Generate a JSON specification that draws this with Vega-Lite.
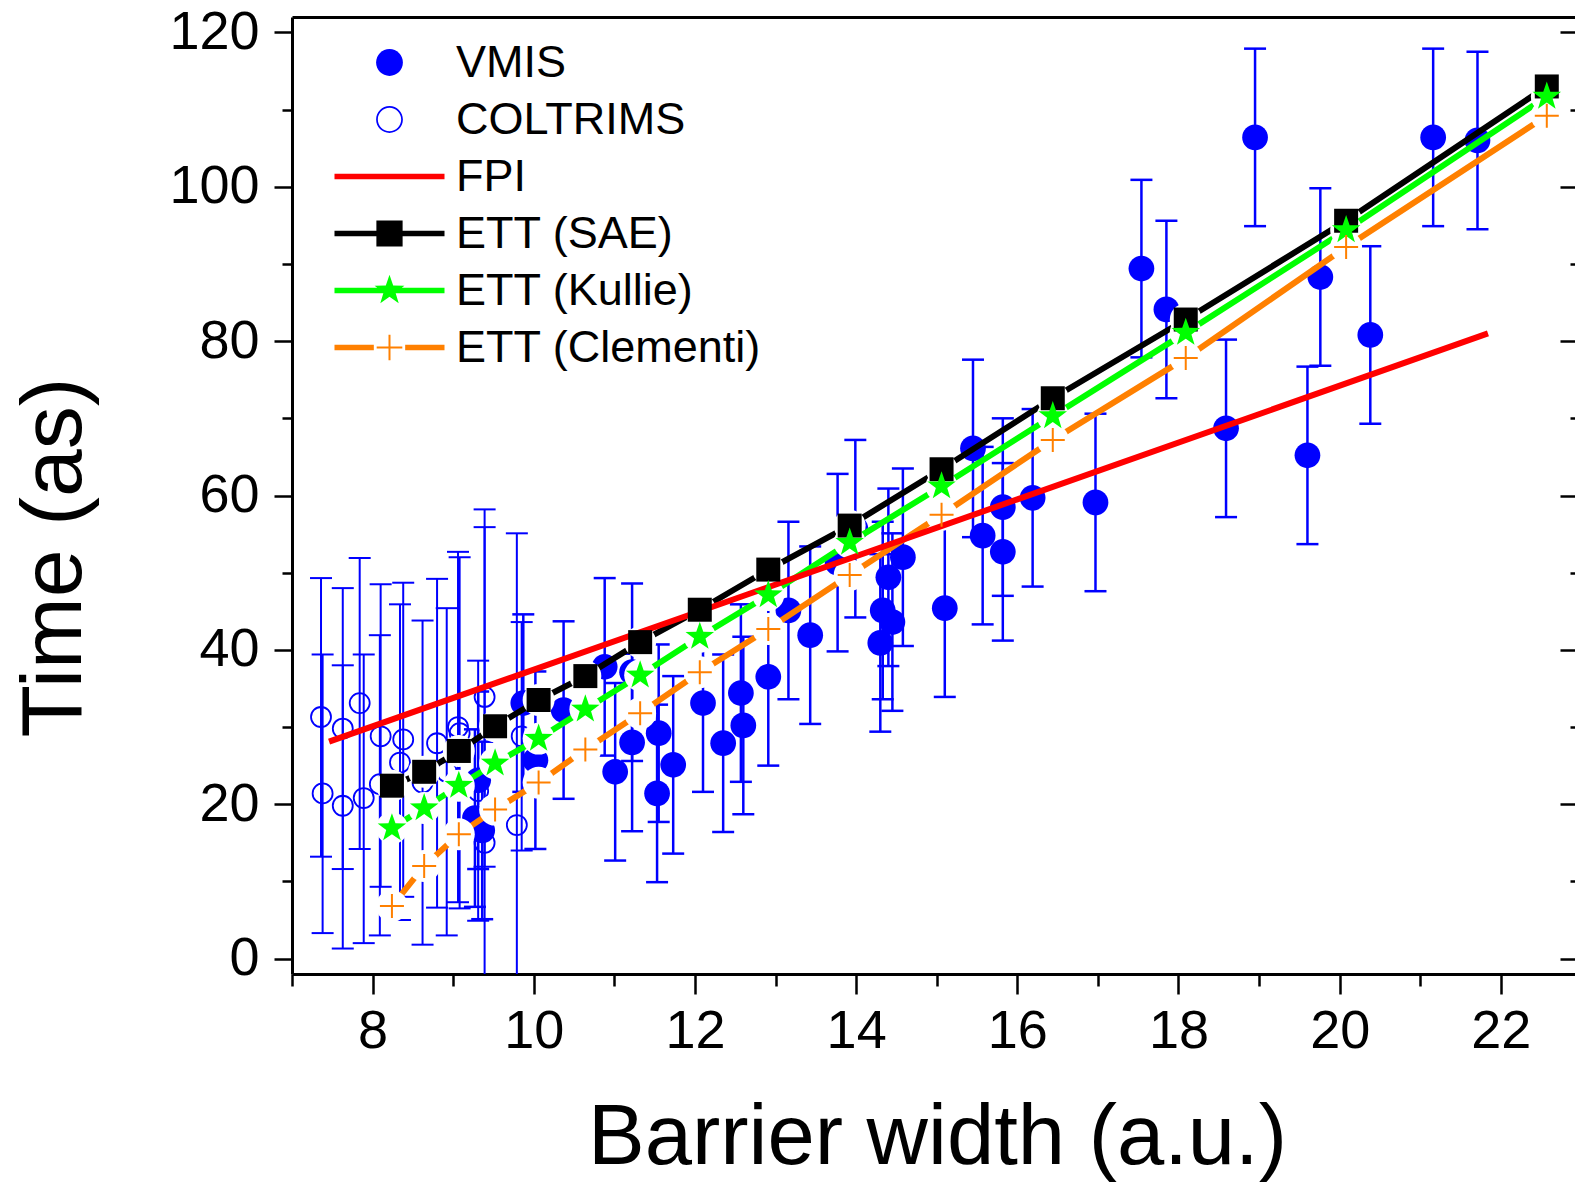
{
  "$schema": "https://vega.github.io/schema/vega-lite/v6.json",
  "width": 1283,
  "height": 957,
  "autosize": {"type": "none"},
  "padding": {"left": 292, "top": 17, "right": 0, "bottom": 211},
  "config": {
    "view": {"stroke": null},
    "font": "Liberation Sans",
    "axis": {"grid": false, "domainColor": "black", "tickColor": "black", "labelColor": "black", "titleColor": "black", "labelFont": "Liberation Sans", "titleFont": "Liberation Sans", "titleFontWeight": "normal"}
  },
  "resolve": {"axis": {"x": "independent", "y": "independent"}},
  "datasets": {
    "vmis": [
      {"x": 9.27, "t": 18.2, "lo": 6.7, "hi": 29.7},
      {"x": 9.36, "t": 16.6, "lo": 5.1, "hi": 28.1},
      {"x": 9.31, "t": 23.1, "lo": 11.6, "hi": 34.6},
      {"x": 9.87, "t": 33.1, "lo": 21.6, "hi": 44.6},
      {"x": 10.02, "t": 25.7, "lo": 14.2, "hi": 37.2},
      {"x": 10.37, "t": 32.2, "lo": 20.7, "hi": 43.7},
      {"x": 10.88, "t": 37.8, "lo": 26.3, "hi": 49.3},
      {"x": 11.01, "t": 24.2, "lo": 12.7, "hi": 35.7},
      {"x": 11.22, "t": 37.1, "lo": 25.6, "hi": 48.6},
      {"x": 11.22, "t": 28.0, "lo": 16.5, "hi": 39.5},
      {"x": 11.55, "t": 29.2, "lo": 17.7, "hi": 40.7},
      {"x": 11.53, "t": 21.4, "lo": 9.9, "hi": 32.9},
      {"x": 11.73, "t": 25.1, "lo": 13.6, "hi": 36.6},
      {"x": 12.10, "t": 33.1, "lo": 21.6, "hi": 44.6},
      {"x": 12.35, "t": 27.9, "lo": 16.4, "hi": 39.4},
      {"x": 12.57, "t": 34.4, "lo": 22.9, "hi": 45.9},
      {"x": 12.60, "t": 30.2, "lo": 18.7, "hi": 41.7},
      {"x": 12.91, "t": 36.5, "lo": 25.0, "hi": 48.0},
      {"x": 13.16, "t": 45.1, "lo": 33.6, "hi": 56.6},
      {"x": 13.43, "t": 41.9, "lo": 30.4, "hi": 53.4},
      {"x": 13.77, "t": 51.3, "lo": 39.8, "hi": 62.8},
      {"x": 13.99, "t": 55.7, "lo": 44.2, "hi": 67.2},
      {"x": 14.30, "t": 40.9, "lo": 29.4, "hi": 52.4},
      {"x": 14.33, "t": 45.1, "lo": 33.6, "hi": 56.6},
      {"x": 14.40, "t": 49.4, "lo": 37.9, "hi": 60.9},
      {"x": 14.45, "t": 43.6, "lo": 32.1, "hi": 55.1},
      {"x": 14.58, "t": 52.0, "lo": 40.5, "hi": 63.5},
      {"x": 15.10, "t": 45.4, "lo": 33.9, "hi": 56.9},
      {"x": 15.45, "t": 66.1, "lo": 54.6, "hi": 77.6},
      {"x": 15.57, "t": 54.8, "lo": 43.3, "hi": 66.3},
      {"x": 15.82, "t": 58.5, "lo": 47.0, "hi": 70.0},
      {"x": 15.82, "t": 52.7, "lo": 41.2, "hi": 64.2},
      {"x": 16.19, "t": 59.7, "lo": 48.2, "hi": 71.2},
      {"x": 16.97, "t": 59.1, "lo": 47.6, "hi": 70.6},
      {"x": 17.54, "t": 89.4, "lo": 77.9, "hi": 100.9},
      {"x": 17.85, "t": 84.1, "lo": 72.6, "hi": 95.6},
      {"x": 18.59, "t": 68.7, "lo": 57.2, "hi": 80.2},
      {"x": 18.95, "t": 106.4, "lo": 94.9, "hi": 117.9},
      {"x": 19.60, "t": 65.2, "lo": 53.7, "hi": 76.7},
      {"x": 19.76, "t": 88.3, "lo": 76.8, "hi": 99.8},
      {"x": 20.38, "t": 80.8, "lo": 69.3, "hi": 92.3},
      {"x": 21.16, "t": 106.4, "lo": 94.9, "hi": 117.9},
      {"x": 21.71, "t": 106.0, "lo": 94.5, "hi": 117.5}
    ],
    "colt": [
      {"x": 7.36, "t": 31.3, "lo": 13.2, "hi": 49.3},
      {"x": 7.38, "t": 21.4, "lo": 3.3, "hi": 39.4},
      {"x": 7.63, "t": 29.8, "lo": 11.6, "hi": 48.0},
      {"x": 7.63, "t": 19.8, "lo": 1.3, "hi": 38.0},
      {"x": 7.84, "t": 33.1, "lo": 14.2, "hi": 51.9},
      {"x": 7.89, "t": 20.8, "lo": 2.0, "hi": 39.4},
      {"x": 8.10, "t": 28.8, "lo": 9.3, "hi": 48.5},
      {"x": 8.09, "t": 22.6, "lo": 3.0, "hi": 41.9},
      {"x": 8.38, "t": 28.4, "lo": 8.0, "hi": 48.7},
      {"x": 8.34, "t": 25.4, "lo": 5.0, "hi": 45.9},
      {"x": 8.62, "t": 22.8, "lo": 1.8, "hi": 43.8},
      {"x": 8.80, "t": 27.9, "lo": 6.6, "hi": 49.2},
      {"x": 8.92, "t": 24.2, "lo": 3.0, "hi": 45.4},
      {"x": 9.06, "t": 30.0, "lo": 7.3, "hi": 52.7},
      {"x": 9.08, "t": 29.2, "lo": 6.5, "hi": 52.0},
      {"x": 9.39, "t": 33.9, "lo": 11.9, "hi": 55.9},
      {"x": 9.31, "t": 21.7, "lo": 4.9, "hi": 38.6},
      {"x": 9.85, "t": 28.8, "lo": 14.0, "hi": 43.6},
      {"x": 9.79, "t": 17.3, "lo": -20.5, "hi": 55.1},
      {"x": 9.39, "t": 15.0, "lo": -28.0, "hi": 58.2}
    ],
    "sae": [
      {"x": 8.24, "t": 22.4}, {"x": 8.64, "t": 24.2}, {"x": 9.07, "t": 26.9}, {"x": 9.52, "t": 30.1},
      {"x": 10.06, "t": 33.5}, {"x": 10.64, "t": 36.6}, {"x": 11.32, "t": 41.0}, {"x": 12.06, "t": 45.2},
      {"x": 12.91, "t": 50.4}, {"x": 13.92, "t": 56.1}, {"x": 15.06, "t": 63.4}, {"x": 16.44, "t": 72.6},
      {"x": 18.09, "t": 82.8}, {"x": 20.08, "t": 95.6}, {"x": 22.57, "t": 113.0}
    ],
    "kullie": [
      {"x": 8.24, "t": 16.9}, {"x": 8.64, "t": 19.5}, {"x": 9.07, "t": 22.4}, {"x": 9.52, "t": 25.3},
      {"x": 10.06, "t": 28.5}, {"x": 10.64, "t": 32.3}, {"x": 11.32, "t": 36.7}, {"x": 12.06, "t": 41.7},
      {"x": 12.91, "t": 47.1}, {"x": 13.92, "t": 53.9}, {"x": 15.06, "t": 61.2}, {"x": 16.44, "t": 70.3},
      {"x": 18.09, "t": 81.1}, {"x": 20.08, "t": 94.4}, {"x": 22.57, "t": 111.7}
    ],
    "clementi": [
      {"x": 8.24, "t": 6.8}, {"x": 8.64, "t": 12.0}, {"x": 9.07, "t": 16.1}, {"x": 9.52, "t": 19.3},
      {"x": 10.06, "t": 22.8}, {"x": 10.64, "t": 27.1}, {"x": 11.32, "t": 31.8}, {"x": 12.06, "t": 37.1},
      {"x": 12.91, "t": 42.7}, {"x": 13.92, "t": 49.7}, {"x": 15.06, "t": 57.5}, {"x": 16.44, "t": 67.2},
      {"x": 18.09, "t": 77.8}, {"x": 20.08, "t": 92.2}, {"x": 22.57, "t": 109.2}
    ],
    "fpi": [
      {"x": 7.46, "t": 28.1}, {"x": 12.06, "t": 45.0}, {"x": 16.0, "t": 59.5}, {"x": 21.84, "t": 81.0}
    ]
  },
  "layer": [
    {
      "data": {"name": "colt"},
      "mark": {"type": "rule", "color": "#0000ff", "strokeWidth": 2, "clip": true},
      "encoding": {
        "x": {"field": "x", "type": "quantitative", "scale": {"domain": [7, 22.92], "nice": false, "zero": false},
              "axis": {"orient": "bottom", "values": [8, 10, 12, 14, 16, 18, 20, 22], "title": "Barrier width (a.u.)", "tickSize": 20, "tickWidth": 2.5, "domainWidth": 3, "labelFontSize": 54, "labelPadding": 10, "titleFontSize": 85, "titleX": 645, "titleY": 189, "titleBaseline": "alphabetic", "titleAlign": "center", "labelFlush": false, "labelOverlap": false}},
        "y": {"field": "lo", "type": "quantitative", "scale": {"domain": [-2, 122], "nice": false, "zero": false},
              "axis": {"orient": "left", "values": [0, 20, 40, 60, 80, 100, 120], "title": "Time (as)", "tickSize": 18, "tickWidth": 2.5, "domainWidth": 3, "labelFontSize": 54, "labelPadding": 15, "titleFontSize": 86, "titleAngle": -90, "titleX": -212, "titleY": 540, "titleBaseline": "alphabetic", "titleAlign": "center", "labelFlush": false, "labelOverlap": false}},
        "y2": {"field": "hi"}
      }
    },
    {
      "data": {"name": "colt"},
      "mark": {"type": "tick", "orient": "horizontal", "size": 22, "thickness": 2, "color": "#0000ff", "opacity": 1, "clip": true},
      "encoding": {
        "x": {"field": "x", "type": "quantitative", "axis": {"orient": "bottom", "values": [7, 9, 11, 13, 15, 17, 19, 21], "labels": false, "title": null, "tickSize": 12, "tickWidth": 2.5, "domain": false}},
        "y": {"field": "lo", "type": "quantitative", "axis": {"orient": "left", "values": [10, 30, 50, 70, 90, 110], "labels": false, "title": null, "tickSize": 10, "tickWidth": 2.5, "domain": false}}
      }
    },
    {
      "data": {"name": "colt"},
      "mark": {"type": "tick", "orient": "horizontal", "size": 22, "thickness": 2, "color": "#0000ff", "opacity": 1, "clip": true},
      "encoding": {
        "x": {"field": "x", "type": "quantitative", "axis": {"orient": "top", "ticks": false, "labels": false, "title": null, "domainWidth": 3}},
        "y": {"field": "hi", "type": "quantitative", "axis": {"orient": "right", "values": [0, 20, 40, 60, 80, 100, 120], "labels": false, "title": null, "tickSize": -15, "tickWidth": 2.5, "domain": false}}
      }
    },
    {
      "data": {"name": "vmis"},
      "mark": {"type": "rule", "color": "#0000ff", "strokeWidth": 2.5, "clip": true},
      "encoding": {
        "x": {"field": "x", "type": "quantitative", "axis": null},
        "y": {"field": "lo", "type": "quantitative", "axis": {"orient": "right", "values": [10, 30, 50, 70, 90, 110], "labels": false, "title": null, "tickSize": -5, "tickWidth": 2.5, "domain": false}},
        "y2": {"field": "hi"}
      }
    },
    {
      "data": {"name": "vmis"},
      "mark": {"type": "tick", "orient": "horizontal", "size": 22, "thickness": 2.5, "color": "#0000ff", "opacity": 1, "clip": true},
      "encoding": {
        "x": {"field": "x", "type": "quantitative", "axis": null},
        "y": {"field": "lo", "type": "quantitative", "axis": null}
      }
    },
    {
      "data": {"name": "vmis"},
      "mark": {"type": "tick", "orient": "horizontal", "size": 22, "thickness": 2.5, "color": "#0000ff", "opacity": 1, "clip": true},
      "encoding": {
        "x": {"field": "x", "type": "quantitative", "axis": null},
        "y": {"field": "hi", "type": "quantitative", "axis": null}
      }
    },
    {
      "data": {"name": "colt"},
      "mark": {"type": "point", "shape": "circle", "filled": false, "stroke": "#0000ff", "strokeWidth": 1.8, "size": 400, "opacity": 1, "clip": true},
      "encoding": {
        "x": {"field": "x", "type": "quantitative", "axis": null},
        "y": {"field": "t", "type": "quantitative", "axis": null}
      }
    },
    {
      "data": {"name": "vmis"},
      "mark": {"type": "point", "filled": true, "size": 3003, "opacity": 1, "strokeWidth": 0, "clip": true},
      "encoding": {
        "x": {"field": "x", "type": "quantitative", "axis": null},
        "y": {"field": "t", "type": "quantitative", "axis": null},
        "color": {"datum": "VMIS", "type": "nominal",
          "scale": {"domain": ["VMIS", "COLTRIMS", "FPI", "ETT (SAE)", "ETT (Kullie)", "ETT (Clementi)"], "range": ["#0000ff", "#0000ff", "#ff0000", "#000000", "#00ff00", "#ff8000"]},
          "legend": {"title": null, "orient": "none", "legendX": 69, "legendY": 17, "direction": "vertical", "symbolSize": 3249, "symbolOffset": 0, "symbolStrokeWidth": 0, "symbolOpacity": 1, "labelOffset": 38, "labelFontSize": 45, "labelFont": "Liberation Sans", "labelColor": "black", "labelLimit": 0, "rowPadding": 5, "padding": 0}},
        "shape": {"datum": "VMIS", "type": "nominal",
          "scale": {"domain": ["VMIS", "COLTRIMS", "FPI", "ETT (SAE)", "ETT (Kullie)", "ETT (Clementi)"],
            "range": [
              "M-0.47,0A0.47,0.47,0,1,0,0.47,0A0.47,0.47,0,1,0,-0.47,0Z",
              "M-0.47,0A0.47,0.47,0,1,0,0.47,0A0.47,0.47,0,1,0,-0.47,0Z M-0.41,0A0.41,0.41,0,1,1,0.41,0A0.41,0.41,0,1,1,-0.41,0Z",
              "M-1.93,-0.1H1.93V0.1H-1.93Z",
              "M-1.93,-0.1H1.93V0.1H-1.93Z M-0.46,-0.46H0.46V0.46H-0.46Z",
              "M-1.93,-0.1H1.93V0.1H-1.93Z M0,-0.55L0.129,-0.178L0.523,-0.17L0.209,0.068L0.323,0.445L0,0.22L-0.323,0.445L-0.209,0.068L-0.523,-0.17L-0.129,-0.178Z",
              "M-1.93,-0.1H-0.55V0.1H-1.93Z M0.55,-0.1H1.93V0.1H0.55Z M-0.45,-0.035H0.45V0.035H-0.45Z M-0.035,-0.45H0.035V0.45H-0.035Z"]},
          "legend": {"title": null, "orient": "none", "legendX": 69, "legendY": 17, "direction": "vertical", "symbolSize": 3249, "symbolOffset": 0, "symbolStrokeWidth": 0, "symbolOpacity": 1, "labelOffset": 38, "labelFontSize": 45, "labelFont": "Liberation Sans", "labelColor": "black", "labelLimit": 0, "rowPadding": 5, "padding": 0}}
      }
    },
    {
      "data": {"name": "sae"},
      "mark": {"type": "line", "color": "#000000", "strokeWidth": 6, "clip": true},
      "encoding": {"x": {"field": "x", "type": "quantitative", "axis": null}, "y": {"field": "t", "type": "quantitative", "axis": null}}
    },
    {
      "data": {"name": "sae"},
      "mark": {"type": "point", "shape": "circle", "filled": true, "color": "#ffffff", "size": 1018, "opacity": 1, "strokeWidth": 0, "clip": true},
      "encoding": {"x": {"field": "x", "type": "quantitative", "axis": null}, "y": {"field": "t", "type": "quantitative", "axis": null}}
    },
    {
      "data": {"name": "kullie"},
      "mark": {"type": "line", "color": "#00ff00", "strokeWidth": 6, "clip": true},
      "encoding": {"x": {"field": "x", "type": "quantitative", "axis": null}, "y": {"field": "t", "type": "quantitative", "axis": null}}
    },
    {
      "data": {"name": "kullie"},
      "mark": {"type": "point", "shape": "circle", "filled": true, "color": "#ffffff", "size": 1018, "opacity": 1, "strokeWidth": 0, "clip": true},
      "encoding": {"x": {"field": "x", "type": "quantitative", "axis": null}, "y": {"field": "t", "type": "quantitative", "axis": null}}
    },
    {
      "data": {"name": "clementi"},
      "mark": {"type": "line", "color": "#ff8000", "strokeWidth": 6, "clip": true},
      "encoding": {"x": {"field": "x", "type": "quantitative", "axis": null}, "y": {"field": "t", "type": "quantitative", "axis": null}}
    },
    {
      "data": {"name": "clementi"},
      "mark": {"type": "point", "shape": "circle", "filled": true, "color": "#ffffff", "size": 1018, "opacity": 1, "strokeWidth": 0, "clip": true},
      "encoding": {"x": {"field": "x", "type": "quantitative", "axis": null}, "y": {"field": "t", "type": "quantitative", "axis": null}}
    },
    {
      "data": {"name": "fpi"},
      "mark": {"type": "line", "color": "#ff0000", "strokeWidth": 6, "clip": true},
      "encoding": {"x": {"field": "x", "type": "quantitative", "axis": null}, "y": {"field": "t", "type": "quantitative", "axis": null}}
    },
    {
      "data": {"name": "sae"},
      "mark": {"type": "point", "shape": "square", "filled": true, "color": "#000000", "size": 576, "opacity": 1, "strokeWidth": 0, "clip": true},
      "encoding": {"x": {"field": "x", "type": "quantitative", "axis": null}, "y": {"field": "t", "type": "quantitative", "axis": null}}
    },
    {
      "data": {"name": "kullie"},
      "mark": {"type": "point", "shape": "M0,-1L0.235,-0.324L0.951,-0.309L0.38,0.124L0.588,0.809L0,0.4L-0.588,0.809L-0.38,0.124L-0.951,-0.309L-0.235,-0.324Z", "filled": true, "color": "#00ff00", "size": 900, "opacity": 1, "strokeWidth": 0, "clip": true},
      "encoding": {"x": {"field": "x", "type": "quantitative", "axis": null}, "y": {"field": "t", "type": "quantitative", "axis": null}}
    },
    {
      "data": {"name": "clementi"},
      "mark": {"type": "point", "shape": "M-1,0H1M0,-1V1", "filled": false, "color": "#ff8000", "strokeWidth": 2, "size": 576, "opacity": 1, "clip": true},
      "encoding": {"x": {"field": "x", "type": "quantitative", "axis": null}, "y": {"field": "t", "type": "quantitative", "axis": null}}
    }
  ]
}
